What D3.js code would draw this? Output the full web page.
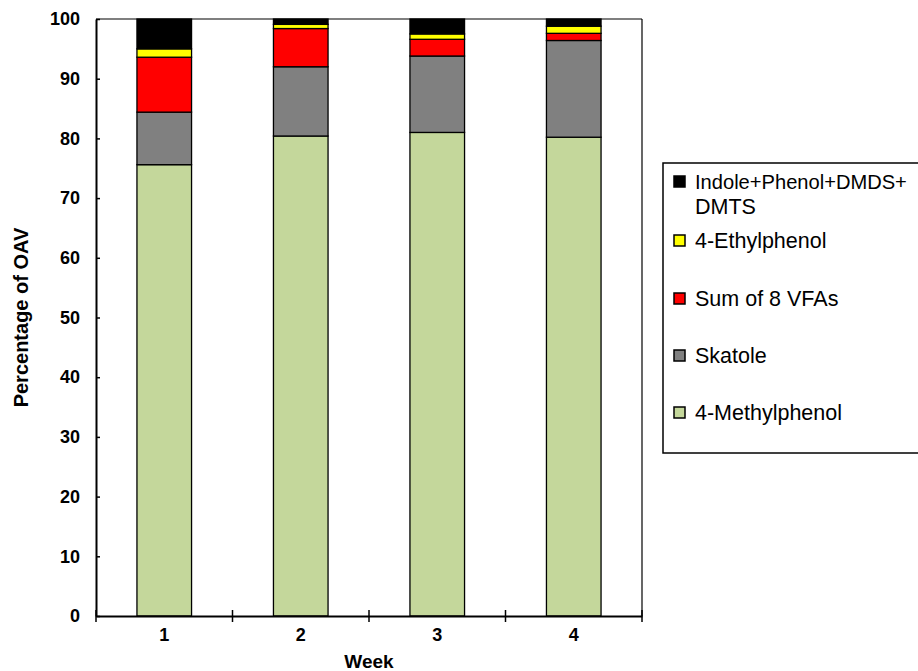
<!DOCTYPE html>
<html><head><meta charset="utf-8">
<script src="https://cdn.jsdelivr.net/npm/d3@7"></script>
<style>body{margin:0;background:#fff;} svg{display:block;}</style>
</head><body>
<svg id="chart" width="918" height="671"></svg>
<script>
const weeks = ["1","2","3","4"];
const seriesNames = ["4-Methylphenol","Skatole","Sum of 8 VFAs","4-Ethylphenol","Indole+Phenol+DMDS+DMTS"];
const methylphenol = [75.6, 80.4, 81.0, 80.2];
const skatole      = [8.8, 11.6, 12.8, 16.2];
const vfas         = [9.2, 6.4, 2.8, 1.2];
const ethylphenol  = [1.4, 0.7, 0.9, 1.2];
const indoleEtc    = [5.0, 0.9, 2.5, 1.2];
const yTicks = [0,10,20,30,40,50,60,70,80,90,100];
const legendLabels = [["Indole+Phenol+DMDS+","DMTS"],["4-Ethylphenol"],["Sum of 8 VFAs"],["Skatole"],["4-Methylphenol"]];
const colors = ["#C4D79B","#808080","#FF0000","#FFFF00","#000000"];

const seriesValues = [methylphenol, skatole, vfas, ethylphenol, indoleEtc];
const rows = weeks.map((w,i)=>{ const r={week:w}; seriesNames.forEach((s,j)=>r[s]=seriesValues[j][i]); return r; });

const svg = d3.select("#chart");
const L=96, R=642, T=19, B=616;
const x = d3.scaleBand().domain(weeks).range([L,R]).padding(0);
const y = d3.scaleLinear().domain([0,100]).range([B,T]);
const stack = d3.stack().keys(seriesNames)(rows);
const bw = x.bandwidth()*0.4;

// frame top & right
svg.append("line").attr("x1",L).attr("x2",R).attr("y1",T).attr("y2",T).attr("stroke","#000").attr("stroke-width",1.2);
svg.append("line").attr("x1",R).attr("x2",R).attr("y1",T).attr("y2",B).attr("stroke","#000").attr("stroke-width",1.2);

const g = svg.append("g");
stack.forEach((layer,j)=>{
  g.selectAll(null).data(layer).enter().append("rect")
    .attr("x",d=>x(d.data.week)+x.bandwidth()/2-bw/2)
    .attr("width",bw)
    .attr("y",d=>y(d[1]))
    .attr("height",d=>y(d[0])-y(d[1]))
    .attr("fill",colors[j]).attr("stroke","#000").attr("stroke-width",1.3);
});

// y axis
const ya = svg.append("g").attr("transform",`translate(${L},0)`)
  .call(d3.axisLeft(y).tickValues(yTicks).tickSizeInner(4).tickSizeOuter(0).tickPadding(12));
ya.selectAll(".tick line").attr("x2",4).attr("stroke","#000").attr("stroke-width",1.5);
ya.select(".domain").attr("stroke","#000").attr("stroke-width",2);
ya.selectAll("text").attr("font-family","Liberation Sans, Arial, sans-serif").attr("font-size",18).attr("font-weight","bold").attr("fill","#000");

// x axis
const xa = svg.append("g").attr("transform",`translate(0,${B})`)
  .call(d3.axisBottom(x).tickSize(0).tickPadding(12));
xa.select(".domain").attr("stroke","#000").attr("stroke-width",2);
xa.selectAll("text").attr("font-family","Liberation Sans, Arial, sans-serif").attr("font-size",18).attr("font-weight","bold").attr("fill","#000").attr("dy","0.72em");
const bounds = weeks.map(w=>x(w)).concat([R]);
svg.append("g").selectAll("line").data(bounds).enter().append("line")
  .attr("x1",d=>d).attr("x2",d=>d).attr("y1",B-6).attr("y2",B+6).attr("stroke","#000").attr("stroke-width",1.5);

// titles
svg.append("text").attr("x",(L+R)/2).attr("y",668).attr("text-anchor","middle")
  .attr("font-family","Liberation Sans, Arial, sans-serif").attr("font-size",19).attr("font-weight","bold").text("Week");
svg.append("text").attr("transform",`translate(28,${(T+B)/2}) rotate(-90)`).attr("text-anchor","middle")
  .attr("font-family","Liberation Sans, Arial, sans-serif").attr("font-size",20).attr("font-weight","bold").text("Percentage of OAV");

// legend
const lg = svg.append("g");
lg.append("rect").attr("x",663).attr("y",163).attr("width",300).attr("height",290).attr("fill","#fff").attr("stroke","#000").attr("stroke-width",1.5);
const baselines = [189,248,306,363,420];
const legendColors = colors.slice().reverse();
legendLabels.forEach((lines,i)=>{
  const by = baselines[i];
  lg.append("rect").attr("x",674).attr("y",by-13).attr("width",11).attr("height",11)
    .attr("fill",legendColors[i]).attr("stroke","#000").attr("stroke-width",1.5);
  lines.forEach((ln,k)=>{
    const t = lg.append("text").attr("x",695).attr("y",by+k*25)
      .attr("font-family","Liberation Sans, Arial, sans-serif").attr("font-size",21.5).attr("fill","#000").text(ln);
    const w = t.node().getComputedTextLength();
    if (w > 212) t.attr("font-size", 21.5*212/w);
  });
});
</script>
</body></html>
